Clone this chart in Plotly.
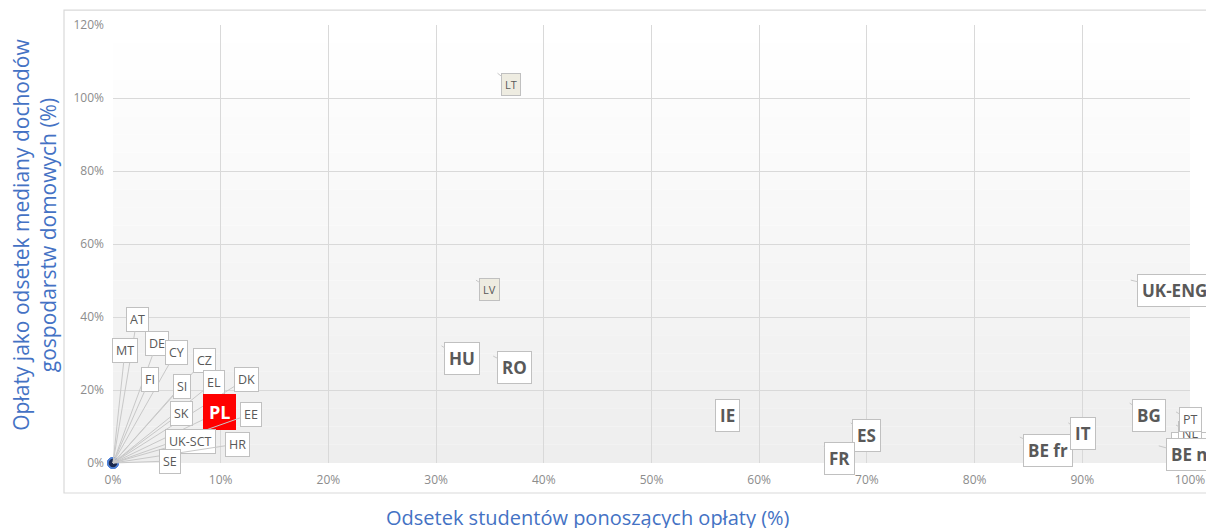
import plotly.graph_objects as go

# ---- data ----
countries = ["AT", "MT", "DE", "CY", "CZ", "FI", "SI", "EL", "DK", "SK", "PL", "EE",
             "UK-SCT", "HR", "SE", "LT", "LV", "HU", "RO", "IE", "ES", "FR", "BE fr",
             "IT", "BG", "UK-ENG", "UK-WLS", "NL", "PT", "BE nl"]
share_paying = [0, 0, 0, 0, 0, 0, 0, 0, 0, 0, 0, 0,
                0, 0, 0, 35.7, 33.7, 30.5, 35.3, 55.7, 68.5, 66.0, 84.2,
                88.7, 94.4, 94.5, 98.7, 98.7, 98.7, 97.1]
fees_pct = [0, 0, 0, 0, 0, 0, 0, 0, 0, 0, 0, 0,
            0, 0, 0, 106.8, 50.1, 32.1, 29.3, 15.9, 11.0, 4.4, 7.1,
            11.0, 16.4, 50.1, 7.4, 10.4, 14.0, 4.7]
x_ticks = [0, 10, 20, 30, 40, 50, 60, 70, 80, 90, 100]
y_ticks = [0, 20, 40, 60, 80, 100, 120]

# ---- label placement (pixel offsets from the point) and styles ----
label_offsets = {
    "AT": (24, -144), "MT": (12, -113), "DE": (44, -120), "CY": (63, -111),
    "CZ": (91, -103), "FI": (37, -84), "SI": (69, -77), "EL": (101, -81),
    "DK": (133, -84), "SK": (68, -50), "PL": (106, -51), "EE": (138, -49),
    "UK-SCT": (77, -22), "HR": (124, -19), "SE": (57, -2),
    "LT": (14, 11), "LV": (14, 9), "HU": (21, 13), "RO": (21, 11),
    "IE": (15, 11), "ES": (16, 13), "FR": (16, 12), "BE fr": (28, 13),
    "IT": (15, 11), "BG": (19, 12), "UK-ENG": (44, 10),
    "UK-WLS": (22, 9), "NL": (14, 8), "PT": (14, 8), "BE nl": (33, 9),
}
beige = {"LT", "LV"}
big = {"HU", "RO", "IE", "ES", "FR", "BE fr", "IT", "BG", "UK-ENG", "BE nl"}
FONT = "Open Sans"
GREY_TXT = "#595959"
LEADER = "#c8c8c8"
BORDER = "#c0c0c0"

fig = go.Figure()

is_origin = [a == 0 and b == 0 for a, b in zip(share_paying, fees_pct)]
fig.add_trace(go.Scatter(
    x=share_paying, y=fees_pct, mode="markers", cliponaxis=False,
    marker=dict(size=[10 if o else 1 for o in is_origin],
                color=["#1c2a4f" if o else "rgba(0,0,0,0)" for o in is_origin],
                line=dict(width=[1.5 if o else 0 for o in is_origin], color="#4f81d6")),
    hoverinfo="text", text=countries, showlegend=False))

annotations = []
for c, xv, yv in zip(countries, share_paying, fees_pct):
    ax, ay = label_offsets[c]
    if c == "PL":
        font = dict(family=FONT, size=18, color="white")
        text, bg, bc, pad = "<b>PL</b>", "#ff0000", "#ff0000", 5
    elif c in big:
        font = dict(family=FONT, size=17, color=GREY_TXT)
        text, bg, bc, pad = "<b>%s</b>" % c, "white", BORDER, 4
    elif c in beige:
        font = dict(family=FONT, size=11, color=GREY_TXT)
        text, bg, bc, pad = c, "#eeece1", BORDER, 3
    else:
        font = dict(family=FONT, size=12.5, color=GREY_TXT)
        text, bg, bc, pad = c, "white", BORDER, 3
    annotations.append(dict(
        x=xv, y=yv, xref="x", yref="y", ax=ax, ay=ay, axref="pixel", ayref="pixel",
        text=text, showarrow=True, arrowhead=0, arrowwidth=1, arrowcolor=LEADER,
        standoff=0, font=font, bgcolor=bg, bordercolor=bc, borderwidth=1,
        borderpad=pad))

# axis titles
annotations.append(dict(
    text="Opłaty jako odsetek mediany dochodów<br>gospodarstw domowych (%)",
    xref="paper", yref="paper", x=-0.073, y=0.522, textangle=-90,
    showarrow=False, xanchor="center", yanchor="middle",
    font=dict(family=FONT, size=21, color="#4472c4")))
annotations.append(dict(
    text="Odsetek studentów ponoszących opłaty (%)",
    xref="paper", yref="paper", x=0.441, y=-0.124, showarrow=False,
    xanchor="center", yanchor="middle",
    font=dict(family=FONT, size=20, color="#4472c4")))

# background gradient bands + outer chart frame
shapes = []
n = 24
for i in range(n):
    t = i / (n - 1)
    v = int(round(0xee + (0xff - 0xee) * t))
    shapes.append(dict(type="rect", xref="paper", yref="paper",
                       x0=0, x1=1, y0=i / n, y1=(i + 1) / n,
                       fillcolor="rgb(%d,%d,%d)" % (v, v, v), line=dict(width=0),
                       layer="below"))
shapes.append(dict(type="rect", xref="paper", yref="paper",
                   x0=-0.0455, x1=1.03, y0=-0.0685, y1=1.034,
                   line=dict(color="#d9d9d9", width=1.2), fillcolor="rgba(0,0,0,0)",
                   layer="below"))

fig.update_layout(
    width=1206, height=528,
    margin=dict(l=113, r=16, t=25, b=65, autoexpand=False),
    paper_bgcolor="white", plot_bgcolor="white",
    annotations=annotations, shapes=shapes,
    xaxis=dict(range=[0, 100], tickvals=x_ticks, ticktext=["%d%%" % v for v in x_ticks],
               showgrid=True, gridcolor="#d9d9d9", gridwidth=1.2, zeroline=False,
               showline=False, automargin=False, ticklabelstandoff=8,
               tickfont=dict(family=FONT, size=12, color="#8c8c8c"), fixedrange=True),
    yaxis=dict(range=[0, 120], tickvals=y_ticks, ticktext=["%d%%" % v for v in y_ticks],
               showgrid=True, gridcolor="#d9d9d9", gridwidth=1.2, zeroline=False,
               showline=False, automargin=False, ticklabelstandoff=8,
               tickfont=dict(family=FONT, size=12, color="#8c8c8c"), fixedrange=True),
    showlegend=False,
)

fig.write_html("out.html", config={"displayModeBar": False},
               post_script="document.body.style.margin='0';document.body.style.overflow='hidden';")
